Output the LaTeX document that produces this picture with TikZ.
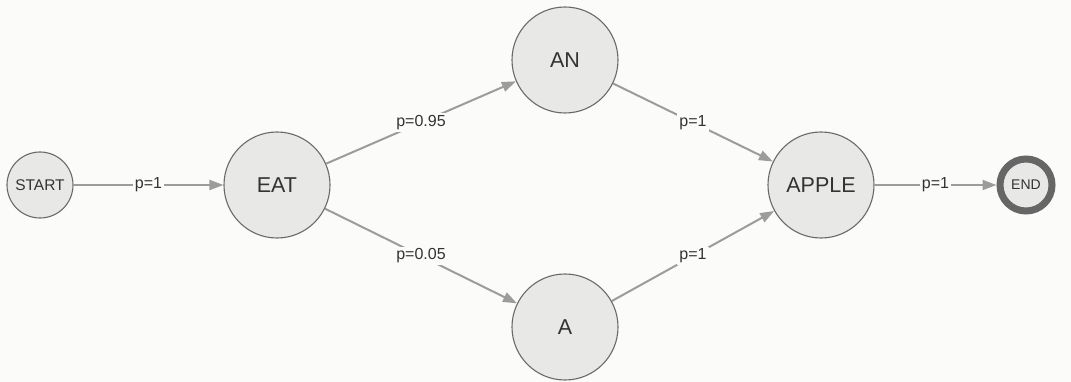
\documentclass[tikz,border=0pt]{standalone}
\usepackage{fontspec}
\setmainfont{Liberation Sans}
\usetikzlibrary{arrows.meta}
\definecolor{bgc}{HTML}{FBFBFA}
\definecolor{nodefill}{HTML}{E8E8E6}
\definecolor{nodeline}{HTML}{6A6A6A}
\definecolor{edgec}{HTML}{9C9C9C}
\definecolor{txt}{HTML}{333333}
\definecolor{ringc}{HTML}{666666}
\tikzset{
  state/.style={circle, draw=nodeline, line width=1.1pt, fill=nodefill, inner sep=0pt, text=txt},
  big/.style={state, minimum size=106pt, font=\fontsize{21.5}{23}\selectfont},
  small/.style={state, minimum size=66pt, font=\fontsize{15.5}{17}\selectfont},
  final/.style={circle, draw=ringc, line width=7pt, fill=nodefill, inner sep=0pt, minimum size=52pt, text=txt, font=\fontsize{14}{16}\selectfont},
  edge/.style={draw=edgec, line width=2pt, -{Triangle[length=14pt,width=10pt]}},
  lab/.style={fill=bgc, inner sep=2pt, text=txt, font=\fontsize{16}{18}\selectfont}
}
\begin{document}
\begin{tikzpicture}[x=1pt,y=-1pt]
\fill[bgc] (0,0) rectangle (1071,382);
\useasboundingbox (0,0) rectangle (1071,382);
\node[small] (start) at (40,185) {START};
\node[big] (eat) at (277,185) {EAT};
\node[big] (an) at (565,60) {AN};
\node[big] (a) at (565,327) {A};
\node[big] (apple) at (821,185) {APPLE};
\node[final] (end) at (1026,185) {END};
\draw[edge] (start) -- node[lab] {p=1} (eat);
\draw[edge] (eat) -- node[lab] {p=0.95} (an);
\draw[edge] (eat) -- node[lab] {p=0.05} (a);
\draw[edge] (an) -- node[lab] {p=1} (apple);
\draw[edge] (a) -- node[lab] {p=1} (apple);
\draw[edge] (apple) -- node[lab] {p=1} (end);
\end{tikzpicture}
\end{document}
